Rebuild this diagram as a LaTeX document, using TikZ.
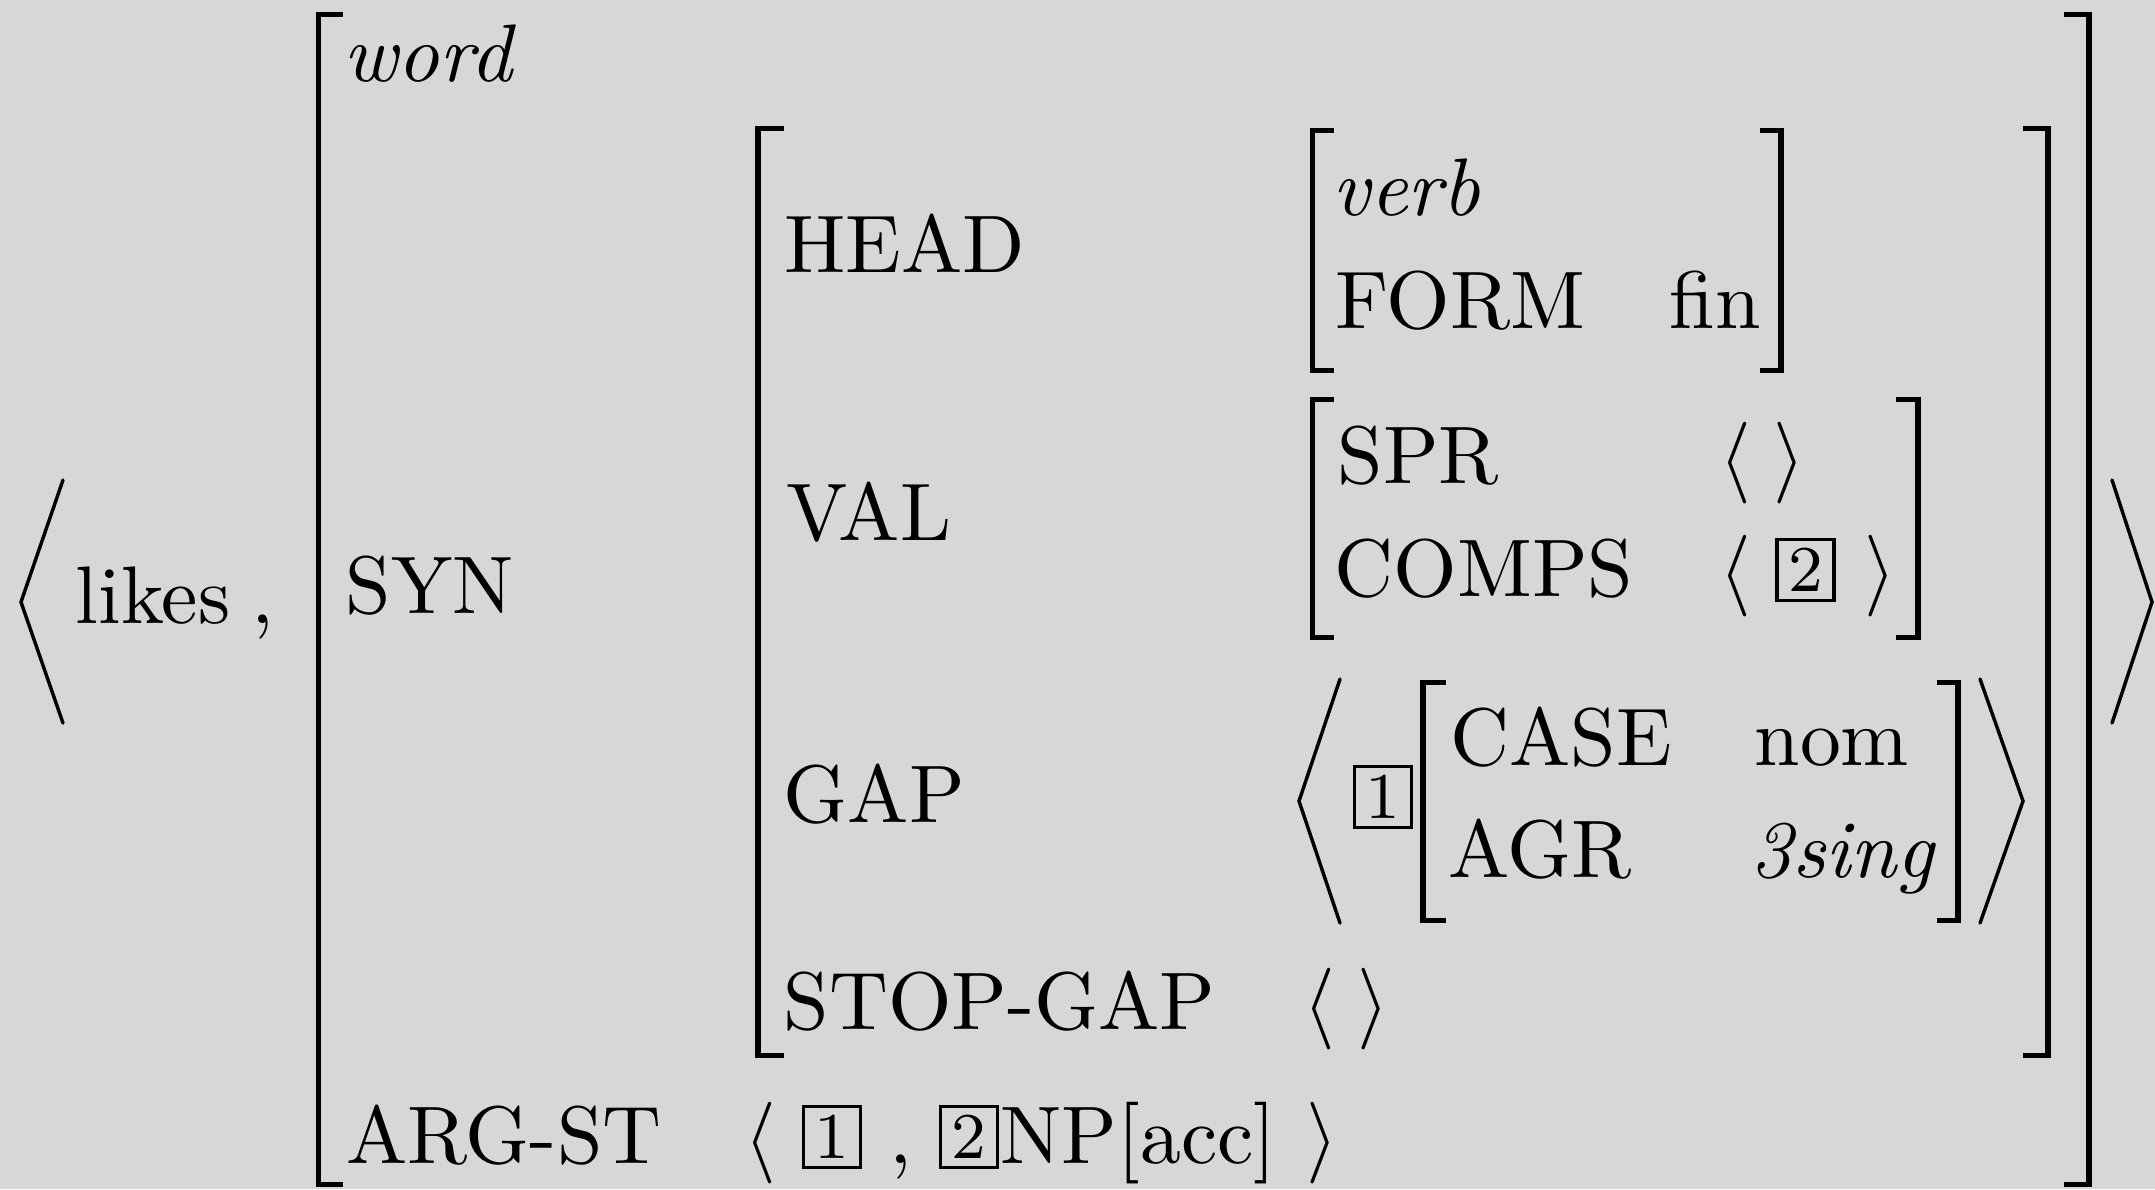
\documentclass[tikz,border=0pt]{standalone}
\usepackage{amsmath}
\usepackage{tikz}
\definecolor{bggray}{RGB}{215,215,215}

\begin{document}
\begin{tikzpicture}[x=0.0043cm,y=-0.0043cm,
    lbl/.style={anchor=base west,inner sep=0pt},
    brk/.style={line width=0.65pt,line join=miter},
    ang/.style={line width=0.42pt,line cap=round,line join=miter},
    tagbox/.style={draw,line width=0.4pt,inner sep=0pt,minimum width=0.245cm,minimum height=0.262cm,font=\footnotesize}]
  \fill[bggray] (0,0) rectangle (2155,1189);
  \useasboundingbox (0,0) rectangle (2155,1189);

  % outer angle brackets
  \draw[ang] (63,480) -- (21,602) -- (63,723);
  \draw[ang] (2112,480) -- (2152,602) -- (2112,723);
  \node[lbl] (lk) at (74,623) {likes};
  \node[lbl] (cm) at (250,623) {,};

  % word
  \draw[brk] (343,14.5) -- (318.5,14.5) -- (318.5,1184.5) -- (343,1184.5);
  \draw[brk] (2064,14.5) -- (2089,14.5) -- (2089,1184.5) -- (2064,1184.5);
  \node[lbl] (w) at (342,81) {\textit{word}};
  \node[lbl] (sy) at (344,613) {SYN};
  \node[lbl] (as) at (345,1163) {ARG-ST};
  \node[lbl] (al) at (743,1163) {$\langle$};
  \node[tagbox] (ta) at (832,1137) {1};
  \node[lbl] (ac) at (888,1163) {,};
  \node[tagbox] (tb) at (969,1137) {2};
  \node[lbl] (np) at (999,1163) {NP[acc]};
  \node[lbl] (ar) at (1305,1163) {$\rangle$};

  % SYN value
  \draw[brk] (784,128.5) -- (758,128.5) -- (758,1055.5) -- (784,1055.5);
  \draw[brk] (2023,128.5) -- (2048,128.5) -- (2048,1055.5) -- (2023,1055.5);
  \node[lbl] (hd) at (783,272) {HEAD};
  \node[lbl] (vl) at (785,540) {VAL};
  \node[lbl] (gp) at (782,822) {GAP};
  \node[lbl] (sg) at (782,1029) {STOP-GAP};
  \node[lbl] (se) at (1302,1029) {$\langle\;\rangle$};

  % HEAD value
  \draw[brk] (1334,130.5) -- (1312.5,130.5) -- (1312.5,370.5) -- (1334,370.5);
  \draw[brk] (1760,130.5) -- (1781,130.5) -- (1781,370.5) -- (1760,370.5);
  \node[lbl] (vb) at (1331,215) {\textit{verb}};
  \node[lbl] (fm) at (1334,328) {FORM};
  \node[lbl] (fn) at (1668,328) {fin};

  % VAL value
  \draw[brk] (1334,399.5) -- (1312.5,399.5) -- (1312.5,637.5) -- (1334,637.5);
  \draw[brk] (1896,399.5) -- (1918,399.5) -- (1918,637.5) -- (1896,637.5);
  \node[lbl] (sp) at (1336,483) {SPR};
  \node[lbl] (spv) at (1718,483) {$\langle\;\rangle$};
  \node[lbl] (co) at (1333,596) {COMPS};
  \node[lbl] (cl) at (1718,596) {$\langle$};
  \node[tagbox] (tc) at (1805.5,570) {2};
  \node[lbl] (cr) at (1863,596) {$\rangle$};

  % GAP value
  \draw[ang] (1340,679) -- (1299,801) -- (1340,923);
  \draw[ang] (1980,679) -- (2023,801) -- (1980,923);
  \node[tagbox] (tg) at (1383,797) {1};
  \draw[brk] (1446,682.5) -- (1423,682.5) -- (1423,920.5) -- (1446,920.5);
  \draw[brk] (1937,682.5) -- (1958,682.5) -- (1958,920.5) -- (1937,920.5);
  \node[lbl] (cs) at (1449,765) {CASE};
  \node[lbl] (nm) at (1753,765) {nom};
  \node[lbl] (ag) at (1447,877) {AGR};
  \node[lbl] (sn) at (1749,877) {\textit{3sing}};
\end{tikzpicture}
\end{document}
